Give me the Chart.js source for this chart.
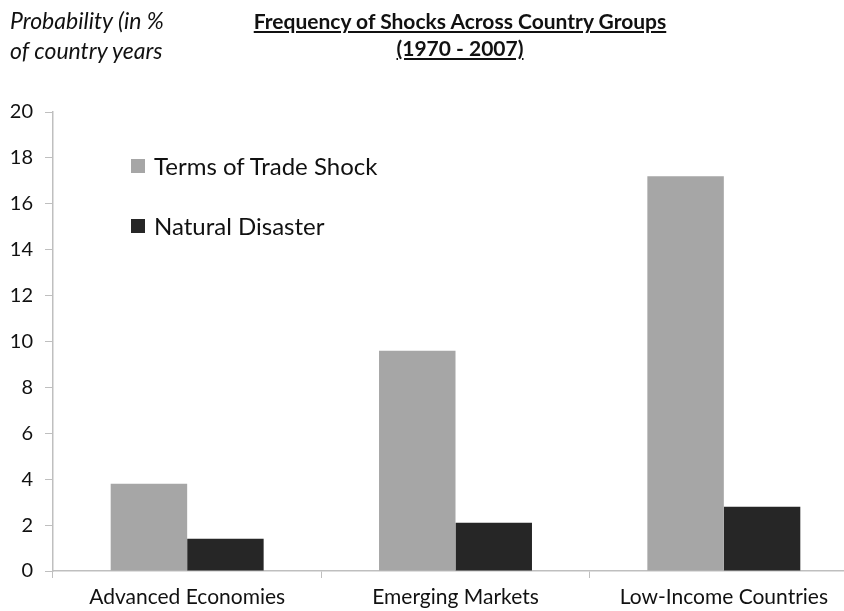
<!DOCTYPE html>
<html>
<head>
<meta charset="utf-8">
<script src="https://cdn.jsdelivr.net/npm/chart.js@4.4.0/dist/chart.umd.min.js"></script>
<style>
  html, body { margin: 0; padding: 0; background: #fff; overflow: hidden; }
  #wrap { position: relative; width: 844px; height: 611px; overflow: hidden; }
  #shocksChart { position: absolute; left: 0; top: 0; }
  .title { position: absolute; left: 210px; width: 500px; text-align: center; top: 7px;
    font-family: Lato, "Open Sans", sans-serif; font-weight: bold; font-size: 21px; line-height: 27px;
    color: #111; text-decoration: underline; }
  .ylabel { position: absolute; left: 10px; top: 5px; font-family: Lato, "Open Sans", sans-serif;
    font-style: italic; font-size: 23px; line-height: 30px; color: #111; }
  .legend { position: absolute; left: 131px; font-family: Lato, "Open Sans", sans-serif; font-size: 24px; color: #111; }
  .legend span { display: inline-block; width: 14px; height: 14px; margin-right: 9px; vertical-align: 2px; }
</style>
</head>
<body>
<div id="wrap">
  <canvas id="shocksChart" width="862" height="611"></canvas>
  <div class="title">Frequency of Shocks Across Country Groups<br>(1970 - 2007)</div>
  <div class="ylabel">Probability (in %<br>of country years</div>
  <div class="legend" style="top:151px"><span style="background:#a6a6a6"></span>Terms of Trade Shock</div>
  <div class="legend" style="top:211px"><span style="background:#262626"></span>Natural Disaster</div>
</div>
<script>
const groups = ['Advanced Economies', 'Emerging Markets', 'Low-Income Countries'];
const termsOfTrade = [3.8, 9.6, 17.2];
const naturalDisaster = [1.4, 2.1, 2.8];
const yTicks = [0, 2, 4, 6, 8, 10, 12, 14, 16, 18, 20];

const axisColor = '#bfbfbf';
const fontFamily = 'Lato, "Open Sans", sans-serif';

const ctx = document.getElementById('shocksChart').getContext('2d');
new Chart(ctx, {
  type: 'bar',
  data: {
    labels: groups,
    datasets: [
      { label: 'Terms of Trade Shock', data: termsOfTrade, backgroundColor: '#a6a6a6' },
      { label: 'Natural Disaster', data: naturalDisaster, backgroundColor: '#262626' }
    ]
  },
  options: {
    responsive: false,
    animation: false,
    datasets: { bar: { categoryPercentage: 0.57, barPercentage: 1.0 } },
    layout: { padding: { top: 112, right: 4, left: 0, bottom: 0 } },
    plugins: { legend: { display: false }, tooltip: { enabled: false } },
    scales: {
      x: {
        grid: { display: true, drawOnChartArea: false, offset: true, color: axisColor, tickLength: 7 },
        border: { color: axisColor, width: 1.5 },
        ticks: { color: '#111', font: { family: fontFamily, size: 21 }, padding: 7 },
        afterFit: s => { s.height = 40; }
      },
      y: {
        min: 0, max: 20,
        afterBuildTicks: s => { s.ticks = yTicks.map(v => ({ value: v })); },
        grid: { display: true, drawOnChartArea: false, color: axisColor, tickLength: 8 },
        border: { color: axisColor, width: 1.5 },
        ticks: { color: '#111', font: { family: fontFamily, size: 20 }, padding: 12 },
        afterFit: s => { s.width = 53; }
      }
    }
  }
});
</script>
</body>
</html>
